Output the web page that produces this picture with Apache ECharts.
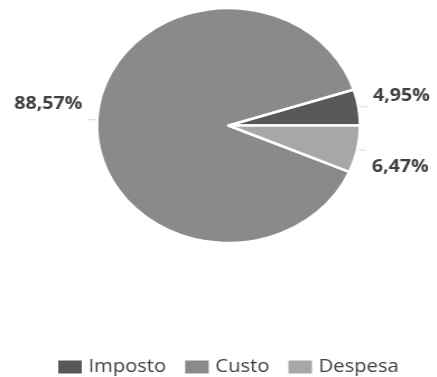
<!DOCTYPE html>
<html>
<head>
<meta charset="utf-8">
<script src="https://cdn.jsdelivr.net/npm/echarts@6/dist/echarts.min.js"></script>
<style>
html,body{margin:0;padding:0;background:#fff;overflow:hidden;}
#c{width:390px;height:377px;transform:scaleX(1.12);transform-origin:0 0;}
</style>
</head>
<body>
<div id="c"></div>
<script>
var categories = ['Imposto', 'Custo', 'Despesa'];
var values = [4.95, 88.57, 6.47];
var labelTexts = ['4,95%', '88,57%', '6,47%'];
var colors = ['#585858', '#8a8a8a', '#a7a7a7'];

var chart = echarts.init(document.getElementById('c'));
var labelFormats = [
  '{t|' + labelTexts[0] + '}\n{s1|}',
  '{t|' + labelTexts[1] + '}\n{s2|}',
  '{s3|}\n{t|' + labelTexts[2] + '}'
];
var data = categories.map(function (name, i) {
  return {
    name: name,
    value: values[i],
    itemStyle: { color: colors[i] }
  };
});
chart.setOption({
  animation: false,
  legend: {
    data: categories,
    left: 50,
    top: 358,
    padding: 0,
    itemWidth: 23,
    itemHeight: 15,
    itemGap: 15,
    icon: 'rect',
    textStyle: { fontFamily: 'Open Sans', fontSize: 18, color: '#404040' }
  },
  series: [{
    type: 'pie',
    center: [204, 125.5],
    radius: 117.5,
    startAngle: 0,
    clockwise: false,
    avoidLabelOverlap: false,
    labelLayout: { hideOverlap: false },
    itemStyle: { borderColor: '#fff', borderWidth: 2.5 },
    label: {
      show: true,
      position: 'outside',
      formatter: function (p) { return labelFormats[p.dataIndex]; },
      distanceToLabelLine: 5,
      rich: {
        t: { fontFamily: 'Open Sans', fontWeight: 'bold', fontSize: 17.5, color: '#404040', lineHeight: 18 },
        s1: { height: 22, lineHeight: 22 },
        s2: { height: 32, lineHeight: 32 },
        s3: { height: 34, lineHeight: 34 }
      }
    },
    labelLine: {
      show: true,
      length: 4,
      length2: 4,
      lineStyle: { color: '#d8d8d8', width: 1 }
    },
    data: data
  }]
});
</script>
</body>
</html>
